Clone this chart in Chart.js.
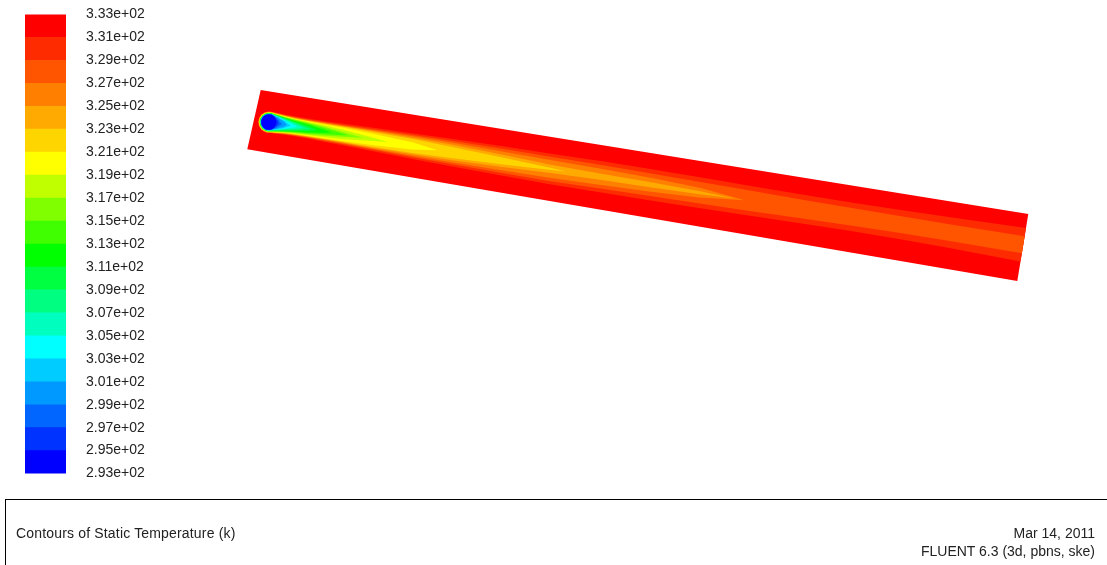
<!DOCTYPE html>
<html>
<head>
<meta charset="utf-8">
<title>Contours of Static Temperature (k)</title>
<script src="https://cdn.jsdelivr.net/npm/chart.js@4.4.0/dist/chart.umd.min.js"></script>
<style>
  html, body { margin: 0; padding: 0; background: #fff; }
  body { width: 1107px; height: 565px; position: relative; overflow: hidden;
         font-family: "Liberation Sans", Arial, sans-serif; }
  #field { position: absolute; left: 0; top: 0; }
  #scale { position: absolute; left: 0; top: -14px; }
  #info { position: absolute; left: 5px; top: 499px; right: 0; bottom: 0;
          border-top: 1px solid #000; border-left: 1px solid #000; }
  .t { position: absolute; font-size: 14px; line-height: 18px; color: #222; white-space: nowrap; }
</style>
</head>
<body>
<canvas id="field" width="1107" height="565"></canvas>
<canvas id="scale" width="170" height="516"></canvas>
<div id="info">
  <div class="t" style="left:10px; top:24px; letter-spacing:0.17px;">Contours of Static Temperature (k)</div>
  <div class="t" style="right:12px; top:24px; text-align:right;">Mar 14, 2011<br>FLUENT 6.3 (3d, pbns, ske)</div>
</div>
<script>
// ---- temperature scale (K) ----
const tempTicks = [293, 295, 297, 299, 301, 303, 305, 307, 309, 311, 313,
                   315, 317, 319, 321, 323, 325, 327, 329, 331, 333];

// ---- plume in the pipe: axial stations and centreline drift (grid units) ----
const stations  = [15, 23, 30, 40, 55, 70, 90, 120, 160, 200, 250,
                   300, 350, 400, 450, 500, 550, 600, 650, 700, 776];
const plumeAxis = [0, 0, 0, 0, 0, 0, 0, 0, 0, 0, 0,
                   0, -0.5, -0.8, -1, -1.3, -1.6, -2, -2.3, -2.5, -2.5];

// isotherm levels, where each closed contour ends downstream (null = reaches outlet)
const isotherms = [331, 329, 327, 325, 323, 321, 319, 317, 315, 313,
                   311, 309, 307, 305, 303, 301, 299, 297, 295];
const isoTip    = [null, null, 495, 485, 315, 185, 135, 110, 95, 78,
                   64, 57, 50, 43, 37, 33, 28, 25, 20];
// half-width of each isotherm at the stations (first value = radius round the inlet)
const isoHalfWidth = [
  [10.9, 10.6, 10.2, 10.0, 10.0, 10.3, 10.8, 11.6, 12.6, 13.5, 14.3, 14.8, 15.0, 15.0, 14.6, 14.0, 13.6, 13.2, 13.4, 14.0, 15.5],
  [10.7, 10.2, 9.6, 9.3, 9.2, 9.3, 9.6, 10.2, 10.9, 11.4, 11.8, 11.8, 11.4, 10.8, 10.2, 9.6, 8.8, 8.2, 7.8, 7.6, 7.8],
  [10.5, 9.9, 9.2, 8.8, 8.6, 8.6, 8.8, 9.2, 9.6, 9.6, 9.2, 8.6, 7.8, 6.6, 4.6],
  [10.3, 9.6, 8.9, 8.4, 8.1, 8.0, 8.1, 8.3, 8.2, 7.6, 6.0, 4.0, 3.0, 2.4, 1.4],
  [10.1, 9.4, 8.6, 8.0, 7.7, 7.6, 7.6, 7.4, 6.8, 5.4, 3.4, 1.0],
  [9.9, 9.1, 8.3, 7.6, 7.2, 7.0, 6.6, 5.6, 3.6],
  [9.7, 8.9, 8.0, 7.2, 6.5, 5.8, 4.6, 1.6],
  [9.5, 8.6, 7.6, 6.7, 5.7, 4.5, 2.4],
  [9.3, 8.3, 7.2, 6.1, 4.8, 3.2, 0.8],
  [9.1, 8.0, 6.8, 5.4, 3.8, 1.6],
  [8.9, 7.7, 6.3, 4.6, 2.4],
  [8.7, 7.4, 5.8, 3.8, 0.6],
  [8.5, 7.1, 5.2, 2.8],
  [8.4, 6.7, 4.6, 1.4],
  [8.3, 6.3, 3.8],
  [8.2, 5.8, 2.6],
  [8.1, 5.0],
  [8.0, 3.2],
  [7.8]
];

// ---- colour map: one colour per band, coldest first ----
const bandColors = ['#0000ff', '#0033ff', '#0066ff', '#0099ff', '#00ccff',
                    '#00ffff', '#00ffbf', '#00ff80', '#00ff40', '#00ff00',
                    '#40ff00', '#80ff00', '#bfff00', '#ffff00', '#ffd500',
                    '#ffaa00', '#ff8000', '#ff5500', '#ff2b00', '#ff0000'];

// ---- view: pipe of 776 x 62 grid units seen slightly tilted ----
const pipe = { length: 776, half: 31 };
const view = { tl: { x: 260.7, y: 90 },  tr: { x: 1028.3, y: 214 },
               bl: { x: 247.3, y: 149.3 }, br: { x: 1017.3, y: 281 } };

function project(s, n) {
  const u = s / pipe.length, t = (n + pipe.half) / (2 * pipe.half);
  const tx = view.tl.x + (view.tr.x - view.tl.x) * u, ty = view.tl.y + (view.tr.y - view.tl.y) * u;
  const bx = view.bl.x + (view.br.x - view.bl.x) * u, by = view.bl.y + (view.br.y - view.bl.y) * u;
  return { x: tx + (bx - tx) * t, y: ty + (by - ty) * t };
}
const levelColor = L => bandColors[tempTicks.indexOf(L) - 1];

function noseRadius(chart, r) {
  const xs = chart.scales.x, ys = chart.scales.y;
  const a = project(stations[0], plumeAxis[0]), b = project(stations[0], plumeAxis[0] + r);
  return Math.hypot(xs.getPixelForValue(b.x) - xs.getPixelForValue(a.x),
                    ys.getPixelForValue(b.y) - ys.getPixelForValue(a.y));
}

Chart.defaults.font.family = '"Liberation Sans", Arial, sans-serif';

// ---- contour field ----
const fieldSets = [{
  data: [[0, -pipe.half], [pipe.length, -pipe.half], [pipe.length, pipe.half], [0, pipe.half]]
        .map(([s, n]) => project(s, n)),
  showLine: true, fill: 'shape', backgroundColor: bandColors[bandColors.length - 1],
  borderColor: 'transparent', borderWidth: 0, pointRadius: 0, order: 100
}];

isotherms.forEach((L, k) => {
  const w = isoHalfWidth[k], tip = isoTip[k], color = levelColor(L);
  const upper = [], lower = [];
  w.forEach((hw, j) => {
    upper.push(project(stations[j], plumeAxis[j] - hw));
    lower.push(project(stations[j], plumeAxis[j] + hw));
  });
  const pts = upper.slice();
  if (tip !== null) pts.push(project(tip, plumeAxis[w.length - 1]));
  pts.push(...lower.reverse());
  fieldSets.push({
    data: pts, showLine: true, fill: 'shape', backgroundColor: color,
    borderColor: 'transparent', borderWidth: 0, pointRadius: 0, order: 50 - k
  });
  fieldSets.push({
    data: [project(stations[0], plumeAxis[0])], showLine: false,
    pointRadius: ctx => noseRadius(ctx.chart, w[0]),
    pointBackgroundColor: color, pointBorderWidth: 0, order: 50 - k
  });
});

new Chart(document.getElementById('field'), {
  type: 'scatter',
  data: { datasets: fieldSets },
  options: {
    responsive: false, animation: false, events: [],
    layout: { padding: 0 },
    plugins: { legend: { display: false }, tooltip: { enabled: false } },
    scales: {
      x: { type: 'linear', display: false, min: 0, max: 1107 },
      y: { type: 'linear', display: false, min: 0, max: 565, reverse: true }
    }
  }
});

// ---- colour bar ----
const fmtTemp = v => Number(v).toExponential(2).replace(/e\+(\d)$/, 'e+0$1');

new Chart(document.getElementById('scale'), {
  type: 'bar',
  data: {
    labels: ['T'],
    datasets: bandColors.map((c, i) => ({
      data: [[tempTicks[i], tempTicks[i + 1]]],
      backgroundColor: c, borderWidth: 0, grouped: false,
      barPercentage: 1, categoryPercentage: 1
    }))
  },
  options: {
    responsive: false, animation: false, events: [],
    layout: { padding: { left: 25, top: 14, bottom: 17, right: 14 } },
    plugins: { legend: { display: false }, tooltip: { enabled: false } },
    scales: {
      x: { display: false },
      y: {
        position: 'right', min: 293, max: 333,
        grid: { display: false, drawTicks: false }, border: { display: false },
        ticks: { stepSize: 2, padding: 20, color: '#222', font: { size: 14 }, callback: v => fmtTemp(v) },
        afterFit: s => { s.width = 90; }
      }
    }
  }
});
</script>
</body>
</html>
